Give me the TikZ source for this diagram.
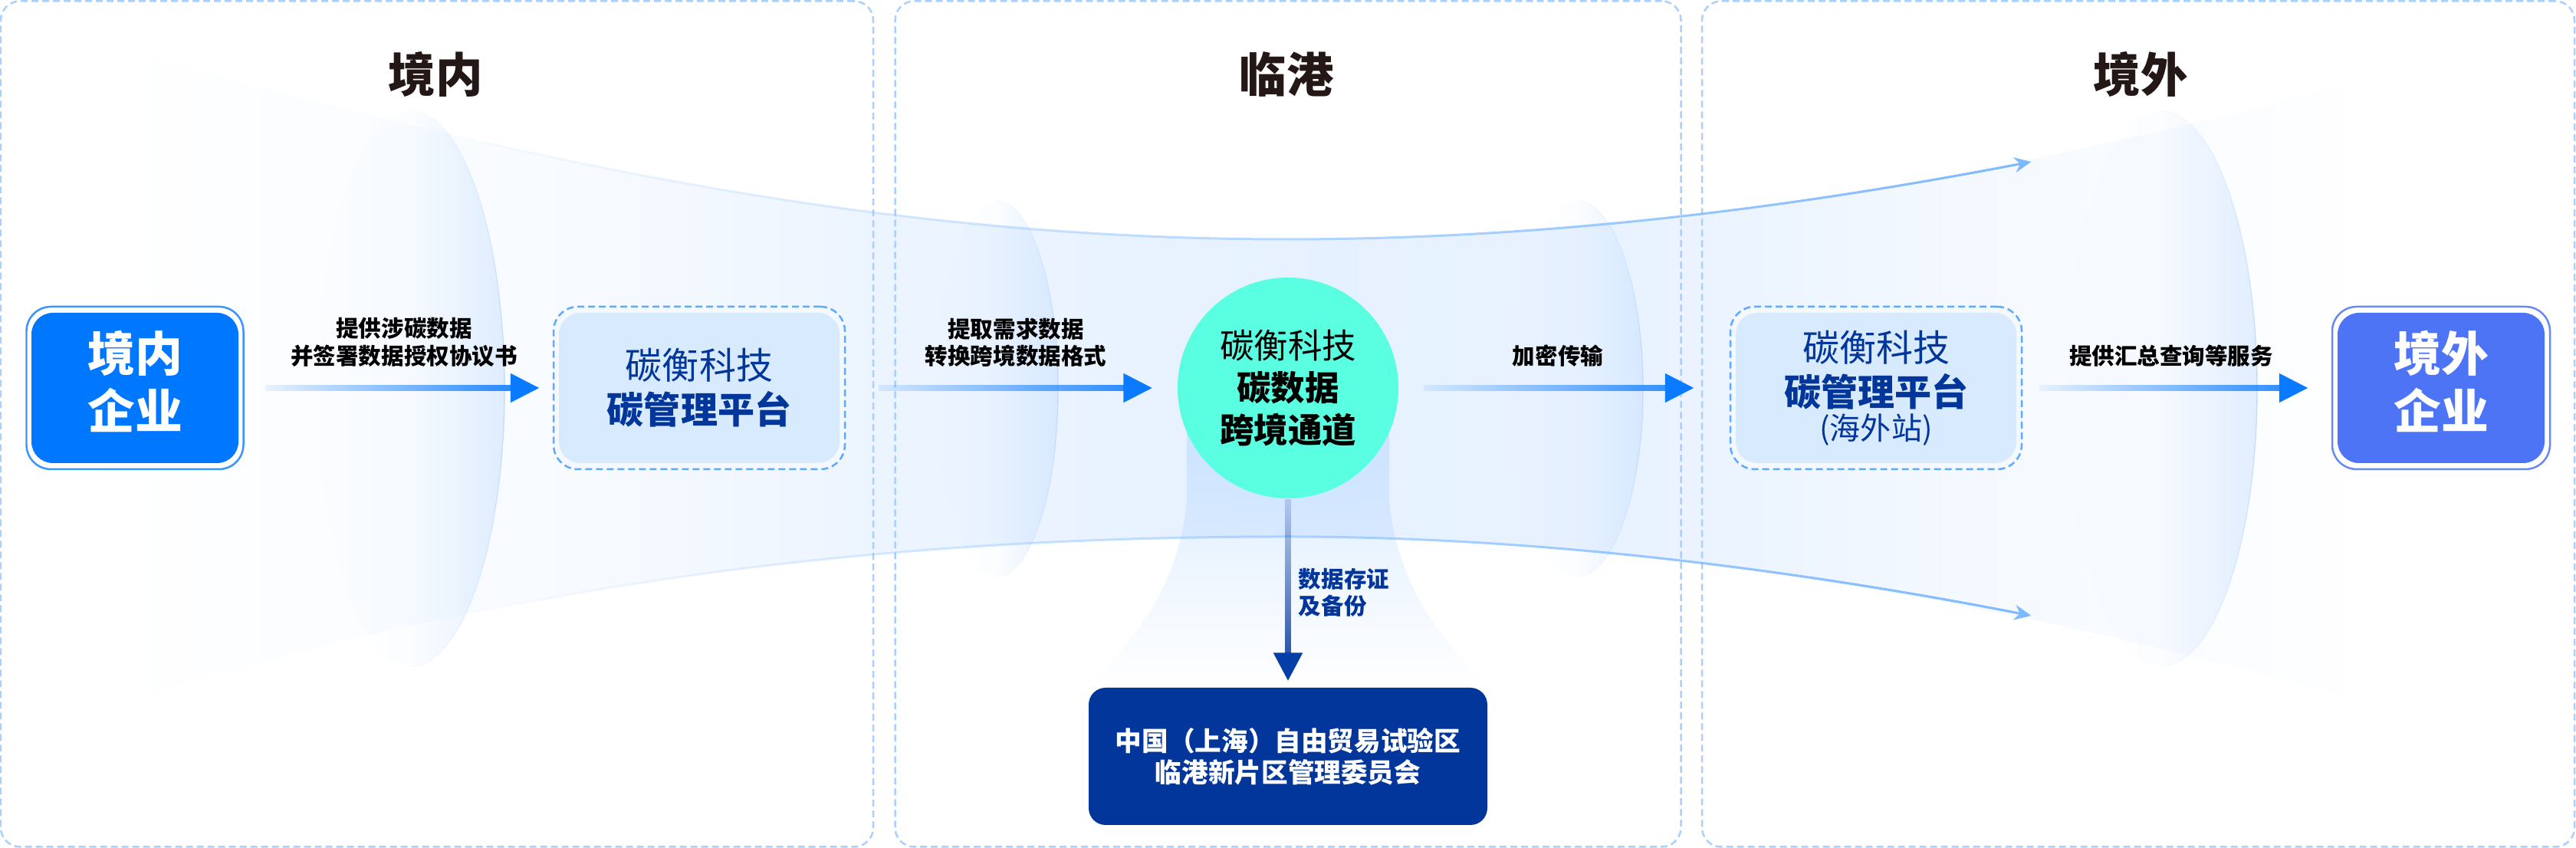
\documentclass[tikz,border=0pt]{standalone}
\usepackage{fontspec}
\setmainfont{Noto Sans CJK SC}
\usetikzlibrary{arrows.meta,fadings,shadings}

\definecolor{flowblue}{HTML}{0A7AFF}
\definecolor{navyblue}{HTML}{03369B}
\definecolor{panelline}{HTML}{A9D0FF}
\definecolor{titleink}{HTML}{231815}
\definecolor{edgeblue}{HTML}{7DB9FF}
\definecolor{lensblue}{HTML}{C4DEFF}
\definecolor{lensedge}{HTML}{BFDBFF}
\definecolor{bellblue}{HTML}{ADD4FF}
\definecolor{domblue}{HTML}{0077FF}
\definecolor{forblue}{HTML}{4D74F5}
\definecolor{platblue}{HTML}{D8EAFE}
\definecolor{hubgreen}{HTML}{5AFFE1}

\pgfdeclarehorizontalshading{funnelshade}{100bp}{color(0bp)=(white); color(25bp)=(white); color(36bp)=(lensblue!14!white); color(42bp)=(lensblue!32!white); color(52bp)=(lensblue!42!white); color(60bp)=(lensblue!36!white); color(66bp)=(lensblue!18!white); color(75bp)=(white); color(100bp)=(white)}
\tikzfading[name=flowfade, left color=transparent!100, right color=transparent!0]
\tikzfading[name=dropfade, top color=transparent!85, bottom color=transparent!0]
\tikzfading[name=lensfade, left color=transparent!100, right color=transparent!52, middle color=transparent!94]
\tikzfading[name=rimfade, top color=transparent!90, bottom color=transparent!90, middle color=transparent!0]
\tikzfading[name=bellfade, top color=transparent!50, bottom color=transparent!100]

\begin{document}
\begin{tikzpicture}[node distance=7.4cm, every node/.style={align=center},
  panelbox/.style={draw=panelline, line width=.025cm, dash pattern=on .09cm off .05cm, rounded corners=.25cm, minimum height=11.03cm},
  titlenode/.style={text=titleink, font=\fontsize{17.5}{20}\selectfont\bfseries},
  rimsolid/.style={draw, fill=white, line width=.025cm, rounded corners=.32cm, minimum height=2.12cm},
  rimdash/.style={draw=flowblue!65, fill=platblue!30, line width=.025cm, dash pattern=on .09cm off .05cm, rounded corners=.32cm, minimum height=2.12cm, minimum width=3.8cm},
  corpbox/.style={rounded corners=.28cm, minimum height=1.96cm, minimum width=2.7cm},
  corpname/.style={text=white, font=\fontsize{17.6}{21.3}\selectfont\bfseries},
  platbox/.style={fill=platblue, rounded corners=.28cm, minimum height=1.96cm, minimum width=3.66cm, text=navyblue, font=\fontsize{13.66}{16.5}\selectfont},
  flowlabel/.style={font=\fontsize{8.4}{9.96}\selectfont\bfseries},
  flowline/.style={draw=flowblue, line width=.08cm, path fading=flowfade},
  flowtip/.style={draw=flowblue, line width=.08cm, -{Triangle[length=.38cm,width=.36cm]}},
  edgeline/.style={draw=edgeblue, line width=.03cm, path fading=flowfade, -{Stealth[length=.22cm,width=.2cm]}},
  lensdisc/.style={fill=lensblue, path fading=lensfade},
  lensrim/.style={draw=lensedge, line width=.014cm, path fading=rimfade}]

\useasboundingbox (0,0) rectangle (33.6,11.06);

\path[shading=funnelshade] (1.50,10.43) .. controls (6.20,9.16) and (11.00,7.94) .. (16.80,7.94) .. controls (21.50,7.94) and (26.00,8.71) .. (31.00,10.06) -- (31.00,1.86) .. controls (26.50,3.16) and (21.50,4.06) .. (16.80,4.06) .. controls (11.50,4.06) and (6.50,3.46) .. (1.30,1.81) -- cycle;

\fill[lensdisc] (5.36,5.99) ellipse (1.22 and 3.62);
\fill[lensdisc] (13.00,5.99) ellipse (.80 and 2.45);
\fill[lensdisc] (20.57,5.99) ellipse (.86 and 2.45);
\fill[lensdisc] (28.19,5.99) ellipse (1.25 and 3.62);
\draw[lensrim] (5.36,9.61) arc[start angle=90, end angle=-90, x radius=1.22, y radius=3.62];
\draw[lensrim] (13.00,8.44) arc[start angle=90, end angle=-90, x radius=.80, y radius=2.45];
\draw[lensrim] (20.57,8.44) arc[start angle=90, end angle=-90, x radius=.86, y radius=2.45];
\draw[lensrim] (28.19,9.61) arc[start angle=90, end angle=-90, x radius=1.25, y radius=3.62];

\fill[bellblue, path fading=bellfade] (15.48,5.66) -- (15.48,4.56) .. controls (15.40,3.40) and (14.70,2.60) .. (14.20,2.11) -- (19.40,2.11) .. controls (18.90,2.60) and (18.20,3.40) .. (18.12,4.56) -- (18.12,5.66) -- cycle;

\node (panelin) [panelbox, minimum width=11.38cm] at (5.70,5.53) {};
\node (panelport) [panelbox, minimum width=10.25cm] at (16.80,5.53) {};
\node (panelout) [panelbox, minimum width=11.38cm] at (27.89,5.53) {};

\node (titlein) [titlenode] at (5.68,10.09) {境内};
\node (titleport) [titlenode] at (16.78,10.09) {临港};
\node (titleout) [titlenode] at (27.92,10.09) {境外};

\coordinate (topstart) at (5.78,9.33);
\coordinate (toptip) at (26.52,8.95);
\coordinate (lowstart) at (5.94,3.02);
\coordinate (lowtip) at (26.50,3.03);
\draw[edgeline] (topstart) .. controls (9.17,8.54) and (12.74,7.94) .. (16.80,7.94) .. controls (20.04,7.94) and (23.19,8.31) .. (toptip);
\draw[edgeline] (lowstart) .. controls (9.53,3.77) and (13.09,4.06) .. (16.80,4.06) .. controls (20.00,4.06) and (23.33,3.65) .. (lowtip);

\node (rimdom) [rimsolid, draw=flowblue!80, minimum width=2.83cm] at (1.76,6.00) {};
\node (rimplat) [rimdash, right of=rimdom, xshift=-.04cm] {};
\node (hub) [circle, fill=hubgreen, minimum size=2.88cm, inner sep=0pt, font=\fontsize{12.66}{15.6}\selectfont, right of=rimplat, xshift=.28cm] {碳衡科技\\{\bfseries 碳数据}\\{\bfseries 跨境通道}};
\node (rimsea) [rimdash, right of=hub, xshift=.27cm] {};
\node (rimfor) [rimsolid, draw=forblue!85, minimum width=2.84cm, right of=rimsea, xshift=-.03cm] {};

\node (domcorp) [corpbox, fill=domblue] at (rimdom) {};
\node (domname) [corpname] at ([yshift=.09cm]domcorp.center) {境内\\企业};
\node (domplat) [platbox] at (rimplat) {碳衡科技\\{\bfseries 碳管理平台}};
\node (seaplat) [platbox] at (rimsea) {碳衡科技\\{\bfseries 碳管理平台}\\[-4pt]{\fontsize{11.4}{12}\selectfont (海外站)}};
\node (forcorp) [corpbox, fill=forblue] at (rimfor) {};
\node (forname) [corpname] at ([yshift=.09cm]forcorp.center) {境外\\企业};

\node (zonebox) [fill=navyblue, rounded corners=.22cm, minimum width=5.2cm, minimum height=1.79cm, text=white, font=\fontsize{9.85}{11.7}\selectfont\bfseries, node distance=4.805cm, below of=hub] {中国（上海）自由贸易试验区\\临港新片区管理委员会};

\draw[flowline, shorten >=.52cm] (rimdom.east) ++(.27,0) -- (rimplat.west);
\draw[flowtip] ([xshift=-.55cm]rimplat.west) -- ([xshift=-.17cm]rimplat.west);
\draw[flowline, shorten >=.67cm] (rimplat.east) ++(.43,0) -- (hub.west);
\draw[flowtip] ([xshift=-.70cm]hub.west) -- ([xshift=-.32cm]hub.west);
\draw[flowline, shorten >=.81cm] (hub.east) ++(.32,0) -- (rimsea.west);
\draw[flowtip] ([xshift=-.84cm]rimsea.west) -- ([xshift=-.46cm]rimsea.west);
\draw[flowline, shorten >=.65cm] (rimsea.east) ++(.22,0) -- (rimfor.west);
\draw[flowtip] ([xshift=-.68cm]rimfor.west) -- ([xshift=-.30cm]rimfor.west);
\draw[draw=navyblue, line width=.085cm, path fading=dropfade, shorten >=.43cm] (hub.south) -- (zonebox.north);
\draw[draw=navyblue!88!flowblue, line width=.085cm, -{Triangle[length=.37cm,width=.36cm]}] ([yshift=.45cm]zonebox.north) -- ([yshift=.08cm]zonebox.north);

\node (labelone) [flowlabel] at (5.27,6.595) {提供涉碳数据\\并签署数据授权协议书};
\node (labeltwo) [flowlabel] at (13.25,6.595) {提取需求数据\\转换跨境数据格式};
\node (labelthree) [flowlabel] at (20.32,6.42) {加密传输};
\node (labelfour) [flowlabel] at (28.32,6.42) {提供汇总查询等服务};
\node (labeldrop) [flowlabel, text=navyblue, align=left] at (17.53,3.33) {数据存证\\及备份};
\end{tikzpicture}
\end{document}
